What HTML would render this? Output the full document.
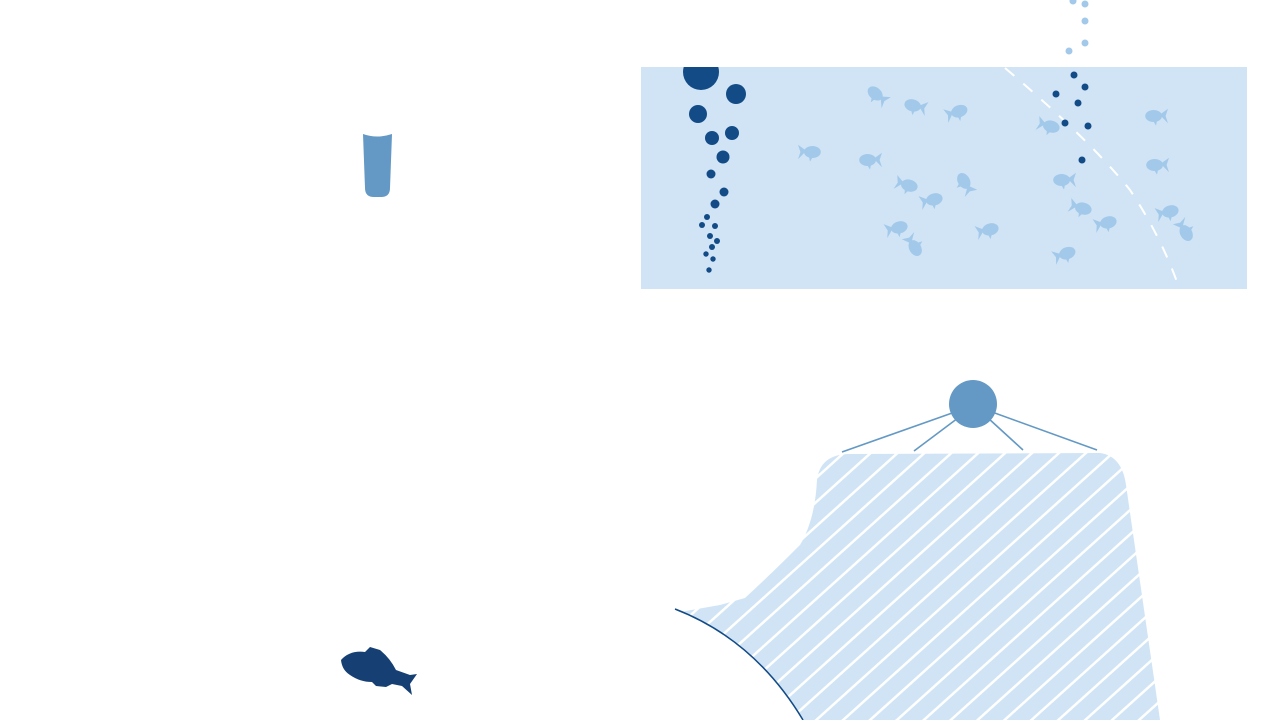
<!DOCTYPE html>
<html><head><meta charset="utf-8"><style>html,body{margin:0;padding:0;background:#fff}svg{display:block}</style></head>
<body>
<svg width="1280" height="720" viewBox="0 0 1280 720" xmlns="http://www.w3.org/2000/svg">
<defs>
<g id="f" transform="scale(1.2)">
<ellipse cx="-2" cy="0" rx="7" ry="5"/>
<polygon points="3,-1 10,-6 8,0 10,6"/>
<polygon points="-3,3 0,8 1,3"/>
</g>
<pattern id="h" patternUnits="userSpaceOnUse" width="18" height="18" patternTransform="rotate(-42)">
<rect width="18" height="18" fill="#d0e4f5"/>
<rect x="0" y="0" width="18" height="2.5" fill="#fff"/>
</pattern>
<clipPath id="wc"><rect x="641" y="67" width="606" height="222"/></clipPath>
</defs>
<!-- cup -->
<path d="M363,134 Q377,139 392,134 L390,188 Q390,197 381,197 L374,197 Q365,197 365,188 Z" fill="#6399c4"/>
<!-- dark fish -->
<path d="M341,660 Q350,650 365,652 L370,647 L380,650 Q390,658 396,670 L410,675 L417,674 L410,684 L412,695 L402,686 L392,684 L386,687 L376,686 L372,682 Q360,682 350,675 Q342,670 341,660 Z" fill="#163f73"/>
<!-- water rect -->
<rect x="641" y="67" width="606" height="222" fill="#d0e4f5"/>
<path d="M1005,68 Q1090,140 1130,190 Q1160,235 1177,282" stroke="#fff" stroke-width="2" fill="none" stroke-dasharray="12,12"/>
<g fill="#134b87">
<circle cx="701" cy="72" r="18" clip-path="url(#wc)"/><circle cx="736" cy="94" r="10"/><circle cx="698" cy="114" r="9"/>
<circle cx="712" cy="138" r="7"/><circle cx="732" cy="133" r="7"/><circle cx="723" cy="157" r="6.5"/>
<circle cx="711" cy="174" r="4.5"/><circle cx="724" cy="192" r="4.5"/><circle cx="715" cy="204" r="4.5"/>
<circle cx="707" cy="217" r="3"/><circle cx="702" cy="225" r="3"/><circle cx="715" cy="226" r="3"/>
<circle cx="710" cy="236" r="3"/><circle cx="717" cy="241" r="3"/><circle cx="712" cy="247" r="3"/>
<circle cx="706" cy="254" r="2.7"/><circle cx="713" cy="259" r="2.7"/><circle cx="709" cy="270" r="2.7"/>
<circle cx="1074" cy="75" r="3.5"/><circle cx="1085" cy="87" r="3.5"/><circle cx="1056" cy="94" r="3.5"/>
<circle cx="1078" cy="103" r="3.5"/><circle cx="1065" cy="123" r="3.5"/><circle cx="1088" cy="126" r="3.5"/>
<circle cx="1082" cy="160" r="3.5"/>
</g>
<g fill="#a3c9ea">
<circle cx="1073" cy="1" r="3.5"/><circle cx="1085" cy="4" r="3.5"/><circle cx="1085" cy="21" r="3.5"/>
<circle cx="1085" cy="43" r="3.5"/><circle cx="1069" cy="51" r="3.5"/>
</g>
<g fill="#a3c9ea">
<use href="#f" transform="translate(877,95) rotate(40)"/>
<use href="#f" transform="translate(915,106) rotate(15)"/>
<use href="#f" transform="translate(957,112) scale(-1,1) rotate(20)"/>
<use href="#f" transform="translate(810,152) scale(-1,1)"/>
<use href="#f" transform="translate(870,160)"/>
<use href="#f" transform="translate(907,185) scale(-1,1) rotate(-15)"/>
<use href="#f" transform="translate(965,183) rotate(60)"/>
<use href="#f" transform="translate(932,200) scale(-1,1) rotate(15)"/>
<use href="#f" transform="translate(897,228) scale(-1,1) rotate(15)"/>
<use href="#f" transform="translate(914,246) rotate(-120)"/>
<use href="#f" transform="translate(988,230) scale(-1,1) rotate(15)"/>
<use href="#f" transform="translate(1049,126) scale(-1,1) rotate(-15)"/>
<use href="#f" transform="translate(1064,180)"/>
<use href="#f" transform="translate(1081,208) scale(-1,1) rotate(-15)"/>
<use href="#f" transform="translate(1106,223) scale(-1,1) rotate(15)"/>
<use href="#f" transform="translate(1065,254) scale(-1,1) rotate(20)"/>
<use href="#f" transform="translate(1156,116)"/>
<use href="#f" transform="translate(1157,165)"/>
<use href="#f" transform="translate(1168,212) scale(-1,1) rotate(15)"/>
<use href="#f" transform="translate(1185,231) rotate(-120)"/>
</g>
<!-- node + lines -->
<g stroke="#6399c4" stroke-width="1.6">
<line x1="955" y1="412" x2="842" y2="452"/>
<line x1="958" y1="418" x2="914" y2="451"/>
<line x1="988" y1="418" x2="1023" y2="450"/>
<line x1="992" y1="412" x2="1097" y2="450"/>
</g>
<circle cx="973" cy="404" r="24" fill="#6399c4"/>
<!-- net -->
<path d="M680,612 L720,605 L745,598 Q770,575 800,545 Q815,520 817,480 Q820,455 848,454 L1100,453 Q1122,456 1126,485 L1160,720 L700,720 Z" fill="url(#h)"/>
<path d="M590,720 L590,605 Q640,600 675,609 Q755,640 803,720 Z" fill="#fff"/>
<path d="M675,609 Q755,640 803,720" stroke="#134b87" stroke-width="1.5" fill="none"/>
</svg>
</body></html>
